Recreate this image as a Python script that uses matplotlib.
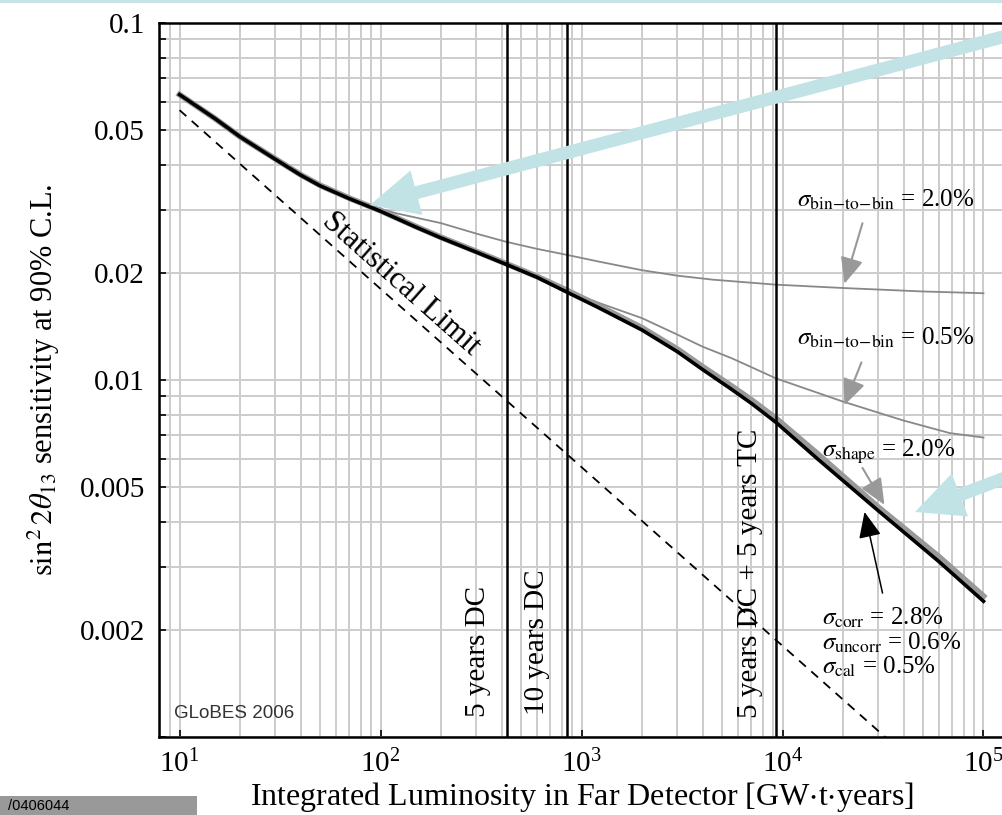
import numpy as np
import matplotlib
matplotlib.use("Agg")
from matplotlib import pyplot as plt
from matplotlib import ticker
from matplotlib.patches import FancyArrow, Rectangle

plt.rcParams['font.family'] = 'serif'
plt.rcParams['font.serif'] = ['Liberation Serif', 'DejaVu Serif']
plt.rcParams['mathtext.fontset'] = 'stix'

# luminosity [GW t years] and sin^2 2theta13 sensitivity
lum_main = [10, 15, 20, 30, 40, 50, 70, 100, 150, 200, 300, 420, 600, 850, 1200, 2000,
            3000, 4000, 5600, 7000, 9300, 15000, 30000, 60000, 100000]
sens_main = [0.063, 0.054, 0.048, 0.0415, 0.0375, 0.035, 0.0322, 0.0297, 0.0268, 0.025,
             0.0228, 0.0211, 0.0194, 0.0176, 0.016, 0.0138, 0.012, 0.0107, 0.0094,
             0.0086, 0.0076, 0.006, 0.0043, 0.0031, 0.0024]

lum_shape = [10, 15, 20, 30, 40, 50, 70, 100, 150, 200, 300, 420, 600, 850, 1200, 2000,
             3000, 4000, 5600, 7000, 9300, 15000, 30000, 60000, 100000]
sens_shape = [0.063, 0.054, 0.048, 0.0416, 0.0376, 0.0351, 0.0323, 0.0298, 0.0269, 0.0251,
              0.0229, 0.0212, 0.0195, 0.0178, 0.0162, 0.014, 0.0122, 0.0109, 0.0096,
              0.0088, 0.0078, 0.0062, 0.0044, 0.0032, 0.00248]

lum_bin2 = [10, 15, 20, 30, 40, 50, 70, 90, 120, 150, 200, 300, 420, 600, 850, 1200,
            2000, 3000, 4500, 9200, 20000, 50000, 100000]
sens_bin2 = [0.063, 0.054, 0.048, 0.0416, 0.0376, 0.0351, 0.0323, 0.0307, 0.0293, 0.0285,
             0.0275, 0.0257, 0.0244, 0.0233, 0.0224, 0.0215, 0.0203, 0.0196, 0.0191,
             0.0185, 0.0181, 0.0177, 0.0175]

lum_bin05 = [10, 15, 20, 30, 40, 50, 70, 100, 150, 200, 300, 420, 600, 850, 1200, 2000,
             3000, 4000, 5600, 9300, 20000, 40000, 68000, 100000]
sens_bin05 = [0.063, 0.054, 0.048, 0.0416, 0.0376, 0.0351, 0.0323, 0.0298, 0.0269, 0.0251,
              0.0229, 0.0212, 0.0195, 0.0178, 0.0165, 0.0149, 0.0134, 0.0124, 0.0115,
              0.0101, 0.0087, 0.0077, 0.0071, 0.0069]

lum_stat = [10, 100, 1000, 10000, 40000]
sens_stat = [0.057, 0.018, 0.0057, 0.0018, 0.0009]

run_lum = [424, 850, 9300]
run_names = ["5 years DC", "10 years DC", "5 years DC + 5 years TC"]

ytick_vals = [0.002, 0.005, 0.01, 0.02, 0.05, 0.1]
ytick_text = ["0.002", "0.005", "0.01", "0.02", "0.05", "0.1"]

W, H = 1003, 815
fig = plt.figure(figsize=(W / 100, H / 100), dpi=100)
ax = fig.add_axes([159 / W, 78 / H, 885 / W, 714 / H])
ax.set_xscale('log')
ax.set_yscale('log')
ax.set_xlim(7.9, 2e5)
ax.set_ylim(0.001, 0.1)

ax.yaxis.set_major_locator(ticker.FixedLocator(ytick_vals))
ax.yaxis.set_major_formatter(ticker.FixedFormatter(ytick_text))
ax.yaxis.set_minor_locator(ticker.LogLocator(base=10, subs=np.arange(1, 10), numticks=20))
ax.yaxis.set_minor_formatter(ticker.NullFormatter())
ax.xaxis.set_minor_locator(ticker.LogLocator(base=10, subs=np.arange(2, 10), numticks=20))
ax.xaxis.set_minor_formatter(ticker.NullFormatter())

ax.grid(True, which='both', color='#cccccc', lw=1.4)
ax.set_axisbelow(True)
ax.tick_params(axis='both', which='both', direction='in', labelsize=21, width=1.2)
ax.tick_params(axis='x', which='major', length=5, pad=9, top=False)
ax.tick_params(axis='x', which='minor', length=0)
ax.tick_params(axis='y', which='both', length=5, pad=10, right=False)
for side in ['left', 'bottom', 'top']:
    ax.spines[side].set_linewidth(1.8)
ax.spines['right'].set_visible(False)

# curves
ax.plot(lum_stat, sens_stat, color='black', lw=1.3, ls=(0, (5, 4)))
ax.plot(lum_bin2, sens_bin2, color='#888888', lw=1.3)
ax.plot(lum_bin05, sens_bin05, color='#888888', lw=1.3)
ax.plot(lum_shape, sens_shape, color='#999999', lw=4.2)
ax.plot(lum_main, sens_main, color='black', lw=2.6)

for L in run_lum:
    ax.axvline(L, color='black', lw=1.8)

text_pos = [(304, 0.00114), (597, 0.00115), (6855, 0.00113)]
for (tx, ty), name in zip(text_pos, run_names):
    ax.text(tx, ty, name, rotation=90, ha='center', va='bottom', fontsize=21)

ax.text(126, 0.0186, "Statistical Limit", rotation=-41.6, rotation_mode='anchor',
        ha='center', va='center', fontsize=22.5)
ax.text(9.4, 0.00113, "GLoBES 2006", family='Liberation Sans', fontsize=13.5,
        color='#333333', va='baseline')

ax.text(11870, 0.0319, r'$\sigma_{\rm bin\!-\!to\!-\!bin}$ = 2.0%', fontsize=18, va='center')
ax.text(11870, 0.0131, r'$\sigma_{\rm bin\!-\!to\!-\!bin}$ = 0.5%', fontsize=18, va='center')
ax.text(15810, 0.00628, r'$\sigma_{\rm shape}$ = 2.0%', fontsize=18, va='center')
ax.text(15810, 0.00215, r'$\sigma_{\rm corr}$ = 2.8%', fontsize=18, va='center')
ax.text(15810, 0.00183, r'$\sigma_{\rm uncorr}$ = 0.6%', fontsize=18, va='center')
ax.text(15810, 0.00157, r'$\sigma_{\rm cal}$ = 0.5%', fontsize=18, va='center')

gray_arrow = dict(arrowstyle='-|>,head_length=0.8,head_width=0.35', color='#999999',
                  lw=1.5, mutation_scale=20, shrinkA=0, shrinkB=0)
ax.annotate('', xy=(20320, 0.0186), xytext=(25000, 0.0275), arrowprops=gray_arrow)
ax.annotate('', xy=(20320, 0.0085), xytext=(24700, 0.0112), arrowprops=gray_arrow)
ax.annotate('', xy=(32140, 0.00447), xytext=(25000, 0.00567), arrowprops=gray_arrow)
ax.annotate('', xy=(25590, 0.00427), xytext=(31450, 0.00253),
            arrowprops=dict(gray_arrow, color='black', lw=1.1))

ax.set_xlabel("Integrated Luminosity in Far Detector [GW$\\cdot$t$\\cdot$years]", fontsize=23)
ax.xaxis.set_label_coords(0.4774, -0.084)
ax.xaxis.label.set_va('center')
ax.set_ylabel(r'$\sin^2 2\theta_{13}$ sensitivity at 90% C.L.', fontsize=22)
ax.yaxis.set_label_coords(-0.13, 0.5)
ax.yaxis.label.set_va('center')

# slide decorations in pixel coordinates
over = fig.add_axes([0, 0, 1, 1], zorder=10)
over.set_xlim(0, W)
over.set_ylim(H, 0)
over.axis('off')
over.patch.set_alpha(0)
cyan = '#c2e3e6'
over.plot([0, W], [1, 1], color=cyan, lw=2)
over.add_patch(FancyArrow(1010, 35, 370 - 1010, 205 - 35, width=13, head_width=46,
                          head_length=48, length_includes_head=True, color=cyan, lw=0))
over.add_patch(FancyArrow(1010, 476, 915 - 1010, 512 - 476, width=13, head_width=46,
                          head_length=48, length_includes_head=True, color=cyan, lw=0))
over.add_patch(Rectangle((0, 796), 197, 20, color='#999999', lw=0))
over.text(8, 806, "/0406044", family='Liberation Sans', fontsize=10.5, va='center',
          color='black')

fig.savefig("out.png", dpi=100)
